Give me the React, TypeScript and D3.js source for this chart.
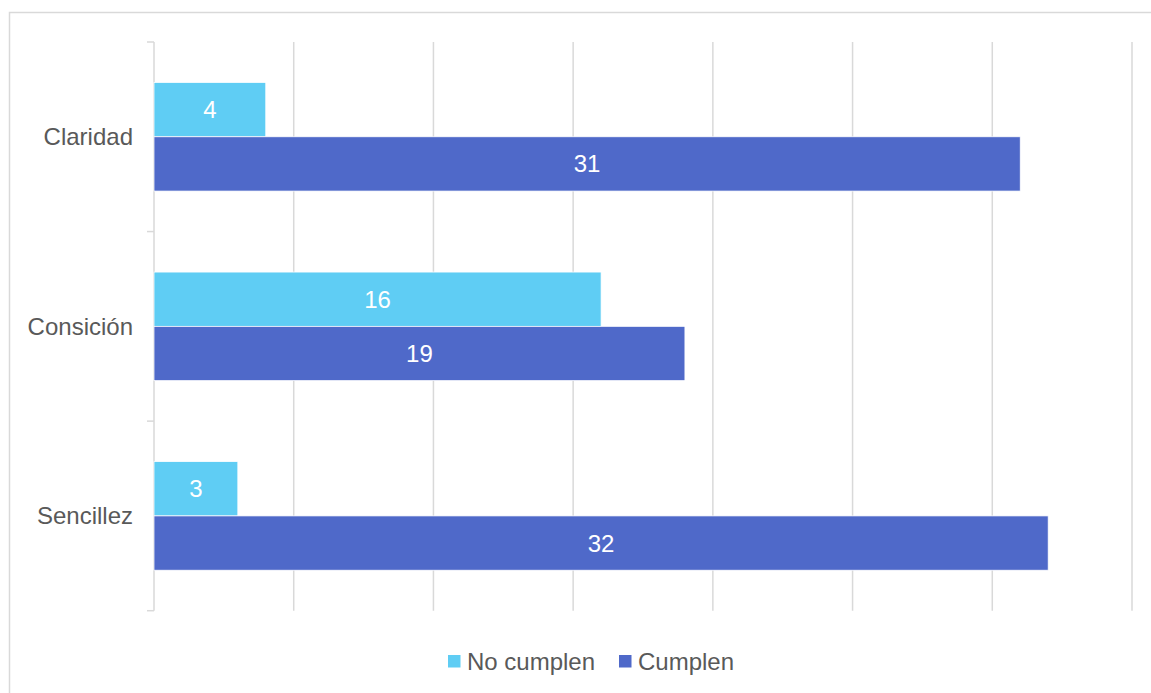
import React from "react";
import * as d3 from "d3";

const categories = ["Claridad", "Consición", "Sencillez"];
const seriesNames = ["No cumplen", "Cumplen"];
const noCumplen = [4, 16, 3];
const cumplen = [31, 19, 32];
const xTicks = [0, 5, 10, 15, 20, 25, 30, 35];
const colors = ["#5FCDF4", "#4F69C9"];

export default function App() {
  const W = 1151;
  const H = 693;
  const left = 154;
  const right = 1132;
  const top = 42;
  const bottom = 610.7;
  const font = "Liberation Sans, Arial, sans-serif";

  const x = d3.scaleLinear().domain([0, 35]).range([left, right]);
  const y = d3.scaleBand<string>().domain(categories).range([top, bottom]).padding(0);
  const sub = d3.scaleBand<string>().domain(seriesNames).range([0, y.bandwidth()]).paddingInner(0).paddingOuter(0.746);
  const series = [noCumplen, cumplen];
  const boundaries = [top, ...categories.map((c) => (y(c) as number) + y.bandwidth())];

  return (
    <svg width={W} height={H} style={{ position: "absolute", left: 0, top: 0, display: "block" }}>
      <rect x={0} y={0} width={W} height={H} fill="#fff" />
      <rect x={9.5} y={12.5} width={W + 20} height={H + 20} fill="none" stroke="#d9d9d9" strokeWidth={1.5} />
      {xTicks.map((t) => (
        <line key={t} x1={x(t)} x2={x(t)} y1={top} y2={bottom} stroke="#d9d9d9" strokeWidth={1.5} />
      ))}
      {boundaries.map((b, i) => (
        <line key={i} x1={left - 7} x2={left} y1={b} y2={b} stroke="#d9d9d9" strokeWidth={1.5} />
      ))}
      {categories.map((c, ci) => (
        <g key={c}>
          <text
            x={133}
            y={(y(c) as number) + y.bandwidth() / 2}
            textAnchor="end"
            dominantBaseline="central"
            fontFamily={font}
            fontSize={24}
            fill="#595959"
          >
            {c}
          </text>
          {seriesNames.map((s, si) => {
            const v = series[si][ci];
            const by = (y(c) as number) + (sub(s) as number);
            const bh = sub.bandwidth();
            return (
              <g key={s}>
                <rect x={x(0)} y={by} width={x(v) - x(0)} height={bh} fill={colors[si]} stroke="#fff" strokeWidth={0.75} />
                <text
                  x={(x(0) + x(v)) / 2}
                  y={by + bh / 2}
                  textAnchor="middle"
                  dominantBaseline="central"
                  fontFamily={font}
                  fontSize={24}
                  fill="#fff"
                >
                  {v}
                </text>
              </g>
            );
          })}
        </g>
      ))}
      {seriesNames.map((s, i) => {
        const lx = [448, 619][i];
        return (
          <g key={s}>
            <rect x={lx} y={655} width={12.5} height={12.5} fill={colors[i]} />
            <text x={lx + 19} y={669.5} fontFamily={font} fontSize={24} fill="#595959">
              {s}
            </text>
          </g>
        );
      })}
    </svg>
  );
}
